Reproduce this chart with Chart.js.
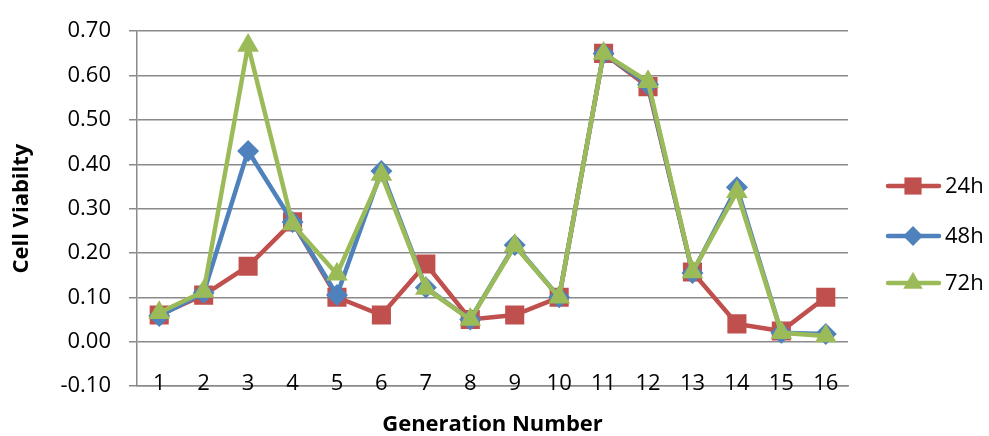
<!DOCTYPE html>
<html>
<head>
<meta charset="utf-8">
<script src="https://cdn.jsdelivr.net/npm/chart.js"></script>
<style>
  html, body { margin: 0; padding: 0; background: #fff; }
  #wrap { width: 989px; height: 436px; }
</style>
</head>
<body>
<div id="wrap"><canvas id="viabilityChart"></canvas></div>
<script>
// Chart values
const generations = ['1', '2', '3', '4', '5', '6', '7', '8', '9', '10', '11', '12', '13', '14', '15', '16'];
const values24h = [0.06, 0.105, 0.17, 0.27, 0.10, 0.06, 0.175, 0.05, 0.06, 0.10, 0.65, 0.575, 0.157, 0.04, 0.024, 0.10];
const values48h = [0.058, 0.11, 0.43, 0.27, 0.105, 0.385, 0.122, 0.05, 0.218, 0.10, 0.65, 0.58, 0.155, 0.348, 0.02, 0.017];
const values72h = [0.065, 0.113, 0.668, 0.265, 0.152, 0.377, 0.12, 0.05, 0.216, 0.10, 0.65, 0.586, 0.157, 0.338, 0.02, 0.013];
const yTicks = { min: -0.10, max: 0.70, step: 0.10 };

const FONT = "'Open Sans', 'Liberation Sans', sans-serif";
const GRID = '#8a8a8a';

// Excel-style legend: short line with the marker on top of it
const sideLegend = {
    id: 'sideLegend',
    afterDraw(chart) {
        const ctx = chart.ctx;
        const rows = [186, 236, 283];
        chart.data.datasets.forEach((ds, i) => {
            const y = rows[i];
            ctx.save();
            ctx.strokeStyle = ds.borderColor;
            ctx.lineWidth = ds.borderWidth;
            ctx.lineCap = 'round';
            ctx.beginPath();
            ctx.moveTo(888, y);
            ctx.lineTo(939, y);
            ctx.stroke();
            ctx.fillStyle = ds.pointBackgroundColor;
            ctx.strokeStyle = ds.pointBorderColor;
            Chart.helpers.drawPoint(ctx, {
                pointStyle: ds.pointStyle,
                radius: ds.pointRadius * 0.9,
                rotation: 0,
                borderWidth: 0
            }, 913, y);
            ctx.fillStyle = '#000';
            ctx.font = '22px ' + FONT;
            ctx.textBaseline = 'middle';
            ctx.textAlign = 'left';
            ctx.fillText(ds.label, 945, y + 1);
            ctx.restore();
        });
    }
};

function series(label, data, color, style, radius, order) {
    return {
        label: label,
        data: data,
        borderColor: color,
        backgroundColor: color,
        pointBackgroundColor: color,
        pointBorderColor: color,
        pointBorderWidth: 0,
        pointStyle: style,
        pointRadius: radius,
        pointHoverRadius: radius,
        borderWidth: 4.5,
        tension: 0,
        order: order
    };
}

new Chart(document.getElementById('viabilityChart'), {
    type: 'line',
    data: {
        labels: generations,
        datasets: [
            series('24h', values24h, '#C0504D', 'rect', 13.5, 3),
            series('48h', values48h, '#4F81BD', 'rectRot', 11, 2),
            series('72h', values72h, '#9BBB59', 'triangle', 12.5, 1)
        ]
    },
    options: {
        responsive: true,
        maintainAspectRatio: false,
        animation: false,
        layout: { padding: { top: 25, right: 141, left: 0, bottom: 0 } },
        plugins: {
            legend: { display: false },
            tooltip: { enabled: false }
        },
        scales: {
            x: {
                offset: true,
                grid: { display: false, drawTicks: false },
                border: { display: true, color: GRID, width: 1.5 },
                ticks: {
                    // mirror keeps labels unclipped so they can sit on the bottom line, as in Excel
                    mirror: true,
                    color: '#000',
                    padding: -11,
                    maxRotation: 0,
                    autoSkip: false,
                    font: { family: FONT, size: 22 }
                },
                title: {
                    display: true,
                    text: 'Generation Number',
                    color: '#000',
                    padding: { top: 0, bottom: -2 },
                    font: { family: FONT, size: 22, weight: 'bold' }
                },
                afterFit: scale => { scale.height = 50; }
            },
            y: {
                min: yTicks.min,
                max: yTicks.max,
                grid: { color: GRID, lineWidth: 1.5, tickLength: 8, tickColor: GRID },
                border: { display: true, color: GRID, width: 1.5 },
                ticks: {
                    stepSize: yTicks.step,
                    color: '#000',
                    padding: 18,
                    font: { family: FONT, size: 22 },
                    callback: value => (Math.abs(value) < 1e-9 ? 0 : value).toFixed(2)
                },
                title: {
                    display: true,
                    text: 'Cell Viabilty',
                    color: '#000',
                    padding: { top: 9, bottom: 0 },
                    font: { family: FONT, size: 22, weight: 'bold' }
                },
                afterFit: scale => { scale.width = 137; }
            }
        }
    },
    plugins: [sideLegend]
});
</script>
</body>
</html>
